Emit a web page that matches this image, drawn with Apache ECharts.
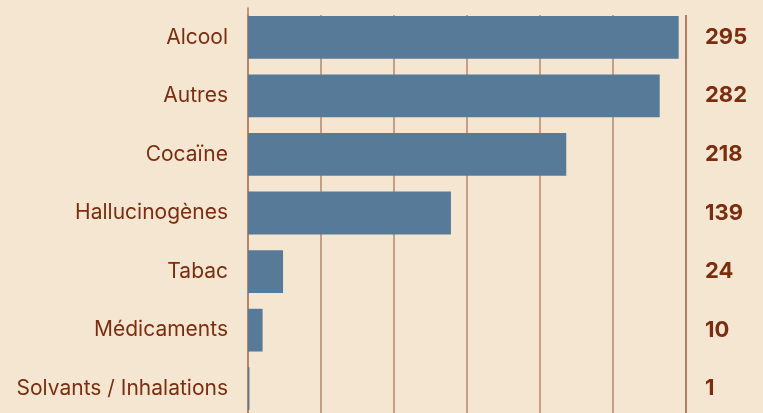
<!DOCTYPE html>
<html>
<head>
<meta charset="utf-8">
<script src="https://cdn.jsdelivr.net/npm/echarts@6/dist/echarts.min.js"></script>
<style>
  html, body { margin: 0; padding: 0; background: #f5e6d2; height: 413px; overflow: hidden; }
  /* taller than the window: the last row runs past the bottom edge */
  #chart { width: 763px; height: 430px; }
</style>
</head>
<body>
<div id="chart"></div>
<script>
const categories = ["Alcool", "Autres", "Cocaïne", "Hallucinogènes", "Tabac", "Médicaments", "Solvants / Inhalations"];
const values = [295, 282, 218, 139, 24, 10, 1];
const axisMax = 300;
const axisStep = 50;

const textColor = "#7a2e0f";
const chart = echarts.init(document.getElementById("chart"));

chart.setOption({
  backgroundColor: "#f5e6d2",
  animation: false,
  textStyle: { fontFamily: "Inter" },
  grid: [
    // bars
    { left: 248, top: 8, width: 438, height: 410 },
    // vertical guide lines (start slightly lower)
    { left: 248, top: 15, width: 438, height: 403 },
  ],
  xAxis: [
    {
      type: "value",
      gridIndex: 0,
      min: 0,
      max: axisMax,
      interval: axisStep,
      axisLabel: { show: false },
      axisLine: { show: false },
      axisTick: { show: false },
      splitLine: { show: false },
    },
    {
      type: "value",
      gridIndex: 1,
      min: 0,
      max: axisMax,
      interval: axisStep,
      axisLabel: { show: false },
      axisLine: { show: false },
      axisTick: { show: false },
      splitLine: {
        show: true,
        lineStyle: {
          width: 1.5,
          color: ["#b5876b", "#b5876b", "#b5876b", "#b5876b", "#b5876b", "#b5876b", "#9a5a3c"],
        },
      },
    },
  ],
  yAxis: [
    {
      type: "category",
      gridIndex: 0,
      data: categories,
      inverse: true,
      axisLine: { show: true, lineStyle: { color: "#b07a5c", width: 1.5 } },
      axisTick: { show: false },
      axisLabel: { color: textColor, fontSize: 21, margin: 20 },
    },
    {
      type: "category",
      gridIndex: 0,
      position: "right",
      data: categories,
      inverse: true,
      axisLine: { show: false },
      axisTick: { show: false },
      axisLabel: {
        color: textColor,
        fontSize: 22,
        fontWeight: "bold",
        margin: 19,
        align: "left",
        formatter: (v, i) => String(values[i]),
      },
    },
    {
      type: "category",
      gridIndex: 1,
      data: categories,
      show: false,
    },
  ],
  series: [
    {
      type: "bar",
      data: values,
      xAxisIndex: 0,
      yAxisIndex: 0,
      barWidth: "73%",
      itemStyle: { color: "#577a99" },
      z: 3,
    },
  ],
});
</script>
</body>
</html>
